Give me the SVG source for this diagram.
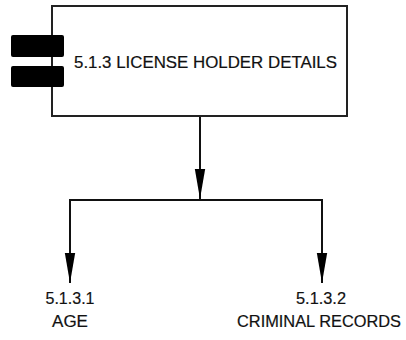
<svg xmlns="http://www.w3.org/2000/svg" width="406" height="340" viewBox="0 0 406 340">
  <style>
    .box { fill: #ffffff; stroke: #222222; stroke-width: 2; }
    .bar { fill: #000000; }
    .lbl { font-family: "Liberation Sans", Arial, sans-serif; font-size: 17px; fill: #111111; stroke: #111111; stroke-width: 0.2px; }
    .conn { fill: none; stroke: #111111; stroke-width: 2; }
  </style>
  <defs>
    <marker id="arr" markerUnits="userSpaceOnUse" markerWidth="12" markerHeight="32" viewBox="-5 -30 10 31" refX="0" refY="0" orient="0">
      <path d="M0,0 L-5,-29 L5,-29 Z" fill="#000000"/>
    </marker>
  </defs>
  <rect width="406" height="340" fill="#ffffff"/>
  <g id="node-5.1.3">
    <rect class="box" x="52" y="6" width="295" height="110"/>
    <rect class="bar" x="11" y="35" width="53" height="22" rx="2"/>
    <rect class="bar" x="11" y="66" width="53" height="21" rx="2"/>
    <text class="lbl" x="74" y="68" textLength="263" lengthAdjust="spacingAndGlyphs">5.1.3 LICENSE HOLDER DETAILS</text>
  </g>
  <g id="node-5.1.3.1">
    <text class="lbl" x="70" y="304" text-anchor="middle" textLength="49" lengthAdjust="spacingAndGlyphs">5.1.3.1</text>
    <text class="lbl" x="70" y="327" text-anchor="middle">AGE</text>
  </g>
  <g id="node-5.1.3.2">
    <text class="lbl" x="321" y="304" text-anchor="middle" textLength="50" lengthAdjust="spacingAndGlyphs">5.1.3.2</text>
    <text class="lbl" x="319" y="327" text-anchor="middle" textLength="164" lengthAdjust="spacingAndGlyphs">CRIMINAL RECORDS</text>
  </g>
  <g id="connectors">
    <path class="conn" d="M200,117 V199" marker-end="url(#arr)"/>
    <path class="conn" d="M200,200 H70 V283" marker-end="url(#arr)"/>
    <path class="conn" d="M200,200 H322 V283" marker-end="url(#arr)"/>
  </g>
</svg>
